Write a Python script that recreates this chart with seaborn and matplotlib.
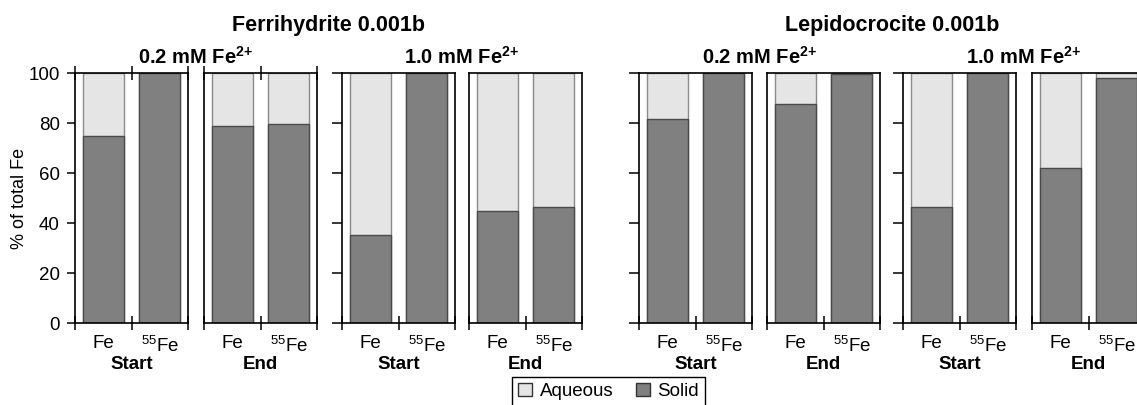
import matplotlib
matplotlib.use("Agg")
import matplotlib.pyplot as plt
import seaborn as sns
import pandas as pd
from matplotlib.patches import Patch

# ---------------- data ----------------
minerals = ["Ferrihydrite 0.001b", "Lepidocrocite 0.001b"]
concentrations = [r"0.2 mM Fe$^{\mathbf{2}{\mathbf{+}}}$", r"1.0 mM Fe$^{\mathbf{2}{\mathbf{+}}}$"]
stages = ["Start", "End"]
isotopes = ["Fe", r"$^{\mathrm{55}}$Fe"]

# % of total Fe in the solid phase, per panel [Fe, 55Fe]
solid_ferri_02_start = [75.0, 100.0]
solid_ferri_02_end = [79.0, 79.5]
solid_ferri_10_start = [35.3, 100.0]
solid_ferri_10_end = [44.9, 46.5]
solid_lepi_02_start = [81.6, 100.0]
solid_lepi_02_end = [87.6, 99.6]
solid_lepi_10_start = [46.4, 100.0]
solid_lepi_10_end = [62.2, 98.1]

# % of total Fe in the aqueous phase, per panel [Fe, 55Fe]
aq_ferri_02_start = [25.0, 0.0]
aq_ferri_02_end = [21.0, 20.5]
aq_ferri_10_start = [64.7, 0.0]
aq_ferri_10_end = [55.1, 53.5]
aq_lepi_02_start = [18.4, 0.0]
aq_lepi_02_end = [12.4, 0.4]
aq_lepi_10_start = [53.6, 0.0]
aq_lepi_10_end = [37.8, 1.9]

panels = [
    (solid_ferri_02_start, aq_ferri_02_start, "Start"),
    (solid_ferri_02_end, aq_ferri_02_end, "End"),
    (solid_ferri_10_start, aq_ferri_10_start, "Start"),
    (solid_ferri_10_end, aq_ferri_10_end, "End"),
    (solid_lepi_02_start, aq_lepi_02_start, "Start"),
    (solid_lepi_02_end, aq_lepi_02_end, "End"),
    (solid_lepi_10_start, aq_lepi_10_start, "Start"),
    (solid_lepi_10_end, aq_lepi_10_end, "End"),
]
y_ticks = [0, 20, 40, 60, 80, 100]

# ---------------- style ----------------
sns.set_theme(style="ticks")
plt.rcParams["font.family"] = ["Liberation Sans", "DejaVu Sans"]
plt.rcParams["mathtext.fontset"] = "custom"
plt.rcParams["mathtext.rm"] = "Liberation Sans"
plt.rcParams["mathtext.it"] = "Liberation Sans:italic"
plt.rcParams["mathtext.bf"] = "Liberation Sans:bold"
for key in ["text.color", "axes.labelcolor", "xtick.color", "ytick.color",
            "xtick.labelcolor", "ytick.labelcolor"]:
    plt.rcParams[key] = "black"

LIGHT = "#e5e5e5"
DARK = "#808080"
LIGHT_EDGE = "#8a8a8a"
DARK_EDGE = "#4a4a4a"
FS = 13.5

W, H = 1137, 405
fig = plt.figure(figsize=(W / 100, H / 100), dpi=100)

lefts = [75, 204, 342, 469, 639, 767, 903, 1032]
pw = 113
top_px, bot_px = 73, 323

axes = []
for i, (solid, aq, stage) in enumerate(panels):
    ax = fig.add_axes([lefts[i] / W, 1 - bot_px / H, pw / W, (bot_px - top_px) / H])
    axes.append(ax)
    df = pd.DataFrame({"isotope": isotopes, "solid": solid, "aqueous": aq})
    df["total"] = df["solid"] + df["aqueous"]
    sns.barplot(data=df, x="isotope", y="total", color=LIGHT, saturation=1,
                width=0.72, edgecolor=LIGHT_EDGE, linewidth=1.0, ax=ax)
    sns.barplot(data=df, x="isotope", y="solid", color=DARK, saturation=1,
                width=0.72, edgecolor=DARK_EDGE, linewidth=1.0, ax=ax)
    ax.set_xlim(-0.5, 1.5)
    ax.set_ylim(0, 100)
    ax.set_xticks([-0.5, 0.5, 1.5])
    ax.set_xticklabels([])
    ax.set_xticks([0, 1], minor=True)
    ax.set_xticklabels(isotopes, minor=True, fontsize=FS)
    ax.tick_params(axis="x", which="minor", length=0, pad=9)
    ax.tick_params(axis="x", which="major", direction="inout", length=10,
                   width=1.1, color="black", top=(i < 2))
    ax.set_xlabel(stage, fontsize=FS, fontweight="bold", labelpad=0)
    ax.set_yticks(y_ticks)
    if i == 0:
        ax.set_yticklabels([str(t) for t in y_ticks], fontsize=FS)
        ax.set_ylabel("% of total Fe", fontsize=13)
        ax.yaxis.set_label_coords((28 - lefts[0]) / pw, 0.5)
        ax.tick_params(axis="y", direction="out", length=6, width=1.1, pad=5)
    else:
        ax.set_ylabel("")
        ax.tick_params(axis="y", labelleft=False, direction="out",
                       length=(7 if i % 2 == 0 else 0), width=1.1)
    for sp in ax.spines.values():
        sp.set_visible(True)
        sp.set_color("black")
        sp.set_linewidth(1.2)

# ---------------- titles ----------------
def center_px(a, b):
    return ((lefts[a] + lefts[b] + pw) / 2) / W

for m in range(2):
    fig.text(center_px(4 * m, 4 * m + 3), 1 - 31 / H, minerals[m],
             ha="center", va="baseline", fontsize=15.5, fontweight="bold")
    for c in range(2):
        k = 4 * m + 2 * c
        fig.text(center_px(k, k + 1), 1 - 64 / H, concentrations[c],
                 ha="center", va="baseline", fontsize=14.5, fontweight="bold")

# ---------------- legend ----------------
handles = [Patch(facecolor=LIGHT, edgecolor="#333333", linewidth=1.0, label="Aqueous"),
           Patch(facecolor=DARK, edgecolor="#333333", linewidth=1.0, label="Solid")]
leg = fig.legend(handles=handles, loc="upper center", ncol=2,
                 bbox_to_anchor=(608.5 / W, 1 - 377 / H), frameon=True,
                 fancybox=False, edgecolor="black", framealpha=1,
                 borderaxespad=0,
                 handlelength=0.75, handleheight=0.75, handletextpad=0.4,
                 columnspacing=1.2, borderpad=0.3, fontsize=FS)
leg.get_frame().set_linewidth(1.0)

fig.savefig("out.png", dpi=100)
